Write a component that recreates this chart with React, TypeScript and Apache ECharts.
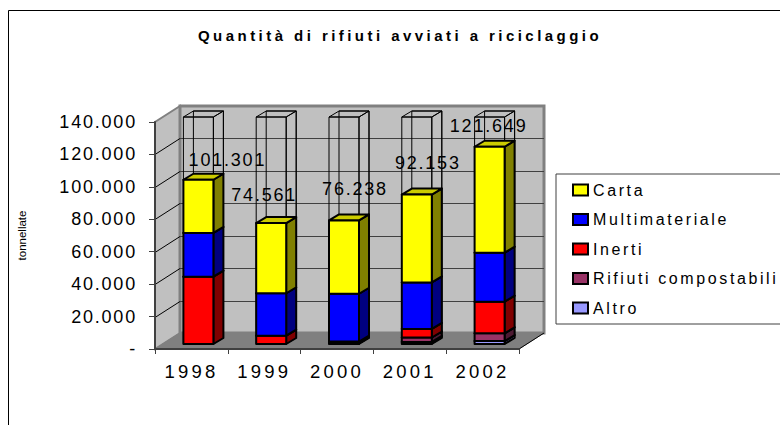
import React, { useEffect, useRef } from "react";
import * as echarts from "echarts";

const years = ["1998", "1999", "2000", "2001", "2002"];
const carta = [32801, 43261, 45238, 54153, 65349];
const multimateriale = [27000, 26200, 29500, 28700, 30200];
const inerti = [41500, 5100, 1000, 5300, 19500];
const compostabili = [0, 0, 500, 2700, 4800];
const altro = [0, 0, 0, 1300, 1800];
const totals = ["101.301", "74.561", "76.238", "92.153", "121.649"];
const yTicks = [0, 20000, 40000, 60000, 80000, 100000, 120000, 140000];
const axisMax = 140000;

// Excel's hand-placed total labels: offset of the text centre from the bar's top centre
const labelOffsets = [[29, -20], [-7, -28], [11, -31], [11, -32], [-1, -21]];

const GRID = { left: 155, top: 122, width: 364, height: 227 };
const WALL_DX = 25, WALL_DY = -16;
const BAR_DX = 7, BAR_DY = -5, BAR_W = 30, BAR_DEPTH_X = 10, BAR_DEPTH_Y = -6;

const materials = [
  { name: "Altro", values: altro, color: "#9999FF", side: "#4C4C80", top: "#7A7ACC" },
  { name: "Rifiuti compostabili", values: compostabili, color: "#993366", side: "#4D1A33", top: "#7A2952" },
  { name: "Inerti", values: inerti, color: "#FF0000", side: "#800000", top: "#CC0000" },
  { name: "Multimateriale", values: multimateriale, color: "#0000FF", side: "#000080", top: "#0000CC" },
  { name: "Carta", values: carta, color: "#FFFF00", side: "#808000", top: "#CCCC00" },
];
const legendOrder = ["Carta", "Multimateriale", "Inerti", "Rifiuti compostabili", "Altro"];

const FONT = "'Liberation Sans', Arial, sans-serif";

function barFront(api: any, idx: number, v: number) {
  const p = api.coord([idx, v]);
  return [p[0] + BAR_DX - BAR_W / 2, p[1] + BAR_DY];
}

function box(x: number, y0: number, y1: number, style: any, topFill?: string, sideFill?: string) {
  const dx = BAR_DEPTH_X, dy = BAR_DEPTH_Y;
  const kids: any[] = [];
  kids.push({
    type: "polygon",
    shape: { points: [[x + BAR_W, y0], [x + BAR_W + dx, y0 + dy], [x + BAR_W + dx, y1 + dy], [x + BAR_W, y1]] },
    style: { ...style, fill: sideFill ?? style.fill },
  });
  kids.push({
    type: "polygon",
    shape: { points: [[x, y1], [x + dx, y1 + dy], [x + BAR_W + dx, y1 + dy], [x + BAR_W, y1]] },
    style: { ...style, fill: topFill ?? style.fill },
  });
  kids.push({ type: "rect", shape: { x, y: y1, width: BAR_W, height: y0 - y1 }, style });
  return kids;
}

export default function App() {
  const ref = useRef<HTMLDivElement>(null);
  useEffect(() => {
    const chart = echarts.init(ref.current!, undefined, { renderer: "svg" });

    const backdrop = {
      type: "custom",
      name: "sfondo",
      silent: true,
      z: 1,
      clip: false,
      data: [[0, 0]],
      renderItem: (_p: any, api: any) => {
        const x0 = api.coord([0, 0])[0] - GRID.width / years.length / 2;
        const x1 = x0 + GRID.width;
        const yAt = (v: number) => api.coord([0, v])[1];
        const wallStyle = { fill: "#C0C0C0", stroke: "#808080", lineWidth: 2 };
        const kids: any[] = [
          {
            type: "polygon",
            shape: { points: [[x0, yAt(0)], [x0 + WALL_DX, yAt(0) + WALL_DY], [x0 + WALL_DX, yAt(axisMax) + WALL_DY], [x0, yAt(axisMax)]] },
            style: wallStyle,
          },
          {
            type: "rect",
            shape: { x: x0 + WALL_DX, y: yAt(axisMax) + WALL_DY, width: GRID.width, height: GRID.height },
            style: { ...wallStyle, lineWidth: 3 },
          },
          {
            type: "polygon",
            shape: { points: [[x0, yAt(0)], [x1, yAt(0)], [x1 + WALL_DX, yAt(0) + WALL_DY], [x0 + WALL_DX, yAt(0) + WALL_DY]] },
            style: { fill: "#808080", stroke: "#808080", lineWidth: 1 },
          },
          {
            type: "line",
            shape: { x1, y1: yAt(0), x2: x1 + WALL_DX, y2: yAt(0) + WALL_DY },
            style: { stroke: "#000", lineWidth: 1 },
          },
        ];
        yTicks.slice(1, -1).forEach((t) => {
          const y = Math.round(yAt(t)) + 0.5;
          kids.push({
            type: "line",
            shape: { x1: x0 + WALL_DX, y1: y + WALL_DY, x2: x1 + WALL_DX, y2: y + WALL_DY },
            style: { stroke: "#404040", lineWidth: 1 },
          });
          kids.push({
            type: "line",
            shape: { x1: x0, y1: y, x2: x0 + WALL_DX, y2: y + WALL_DY },
            style: { stroke: "#000", lineWidth: 1 },
          });
        });
        return { type: "group", children: kids };
      },
    };

    const wire = {
      type: "custom",
      name: "massimo",
      silent: true,
      z: 2,
      clip: false,
      data: years.map((_, i) => [i, axisMax]),
      renderItem: (_p: any, api: any) => {
        const idx = api.value(0);
        const [x, y1] = barFront(api, idx, api.value(1));
        const [, y0] = barFront(api, idx, 0);
        const style = { fill: "transparent", stroke: "#000", lineWidth: 1 };
        return {
          type: "group",
          children: [
            { type: "rect", shape: { x: x + BAR_DEPTH_X, y: y1 + BAR_DEPTH_Y, width: BAR_W, height: y0 - y1 }, style },
            ...box(x, y0, y1, style),
          ],
        };
      },
    };

    const stacked = materials.map((m, mi) => ({
      type: "custom",
      name: m.name,
      silent: true,
      z: 3 + mi,
      clip: false,
      itemStyle: { color: m.color, borderColor: "#000", borderWidth: 2 },
      data: years.map((_, i) => {
        const base = materials.slice(0, mi).reduce((s, o) => s + o.values[i], 0);
        return [i, base, base + m.values[i]];
      }),
      renderItem: (_p: any, api: any) => {
        const idx = api.value(0);
        const lo = api.value(1), hi = api.value(2);
        if (hi <= lo) return { type: "group", children: [] };
        const [x, y0] = barFront(api, idx, lo);
        const [, y1] = barFront(api, idx, hi);
        return {
          type: "group",
          children: box(x, y0, y1, { fill: m.color, stroke: "#000", lineWidth: 2, lineJoin: "round" }, m.top, m.side),
        };
      },
    }));

    const labels = {
      type: "custom",
      name: "totali",
      silent: true,
      z: 10,
      clip: false,
      data: years.map((_, i) => [i, materials.reduce((s, o) => s + o.values[i], 0)]),
      renderItem: (_p: any, api: any) => {
        const idx = api.value(0);
        const [x, y] = barFront(api, idx, api.value(1));
        const [ox, oy] = labelOffsets[idx];
        return {
          type: "text",
          x: x + BAR_W / 2 + ox,
          y: y + oy,
          style: {
            text: totals[idx],
            fill: "#000",
            font: `18px ${FONT}`,
            textAlign: "center",
            textVerticalAlign: "middle",
          },
        };
      },
    };

    chart.setOption({
      animation: false,
      backgroundColor: "#fff",
      textStyle: { fontFamily: FONT },
      title: {
        text: "Quantità di rifiuti avviati a riciclaggio",
        left: 395,
        top: 23,
        textAlign: "center",
        textStyle: { fontSize: 15, fontWeight: "bold", color: "#000", fontFamily: FONT },
      },
      grid: { ...GRID, containLabel: false },
      xAxis: {
        type: "category",
        data: years,
        z: 20,
        axisLine: { lineStyle: { color: "#404040", width: 2 } },
        axisTick: { show: true, length: 5, lineStyle: { color: "#404040", width: 1 } },
        axisLabel: { fontSize: 18.5, color: "#000", margin: 13, fontFamily: FONT },
        splitLine: { show: false },
      },
      yAxis: {
        type: "value",
        min: 0,
        max: axisMax,
        interval: 20000,
        z: 20,
        name: "tonnellate",
        nameLocation: "middle",
        nameGap: 127,
        nameTextStyle: { fontSize: 11.5, color: "#000", fontFamily: FONT },
        axisLine: { show: true, lineStyle: { color: "#404040", width: 2 } },
        axisTick: { show: true, length: 6, lineStyle: { color: "#404040", width: 1 } },
        axisLabel: {
          fontSize: 18,
          color: "#000",
          margin: 18,
          fontFamily: FONT,
          formatter: (v: number) => (v === 0 ? "-" : String(v / 1000) + ".000"),
        },
        splitLine: { show: false },
      },
      legend: {
        left: 556,
        top: 174,
        orient: "vertical",
        selectedMode: false,
        padding: [8, 80, 8, 16],
        itemGap: 13.5,
        itemWidth: 15,
        itemHeight: 11,
        backgroundColor: "#fff",
        borderColor: "#404040",
        borderWidth: 1,
        borderRadius: 0,
        textStyle: { fontSize: 16, color: "#000", fontFamily: FONT, padding: [0, 0, 0, 0] },
        data: legendOrder.map((name) => ({ name, icon: "rect" })),
      },
      graphic: [
        {
          type: "polyline",
          shape: { points: [[8.5, 425], [8.5, 10.5], [780, 10.5]] },
          style: { stroke: "#000", lineWidth: 1, fill: "none" },
        },
      ],
      series: [backdrop, wire, ...stacked, labels],
    } as any);
    return () => chart.dispose();
  }, []);
  return (
    <>
      <style>{`
        html, body { margin: 0; background: #fff; }
        svg text { letter-spacing: 1.8px; }
        svg text[style*="bold"] { letter-spacing: 3.45px; }
        svg text[style*="11.5px"] { letter-spacing: 0; }
        svg text[style*="18.5px"] { letter-spacing: 3.2px; }
        svg text[style*="16px"] { letter-spacing: 2.6px; }
      `}</style>
      <div ref={ref} style={{ position: "absolute", left: 0, top: 0, width: 780, height: 425 }} />
    </>
  );
}
